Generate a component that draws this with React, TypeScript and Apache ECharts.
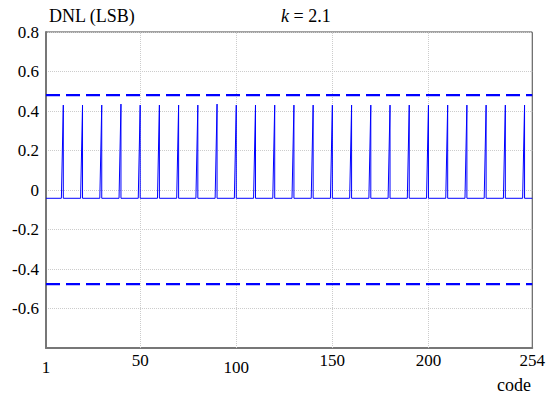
import React, { useEffect, useRef } from "react";
import * as echarts from "echarts";

// Data
const xTickLabels = [1, 50, 100, 150, 200, 254];
const xGridCodes = [50, 100, 150, 200];
const baselineDNL = -0.042;
const spikeCodes = [10, 20, 30, 40, 50, 60, 70, 80, 90, 100, 110, 120, 130, 140, 150, 160, 170, 180, 190, 200, 210, 220, 230, 240, 250];
const spikePeaks = [0.43, 0.43, 0.43, 0.435, 0.43, 0.43, 0.43, 0.43, 0.435, 0.43, 0.43, 0.43, 0.43, 0.43, 0.43, 0.43, 0.43, 0.43, 0.43, 0.43, 0.43, 0.43, 0.43, 0.43, 0.43];
const upperLimit = 0.48;
const lowerLimit = -0.477;
const firstCode = 1;
const lastCode = 254;

const FONT = "Times New Roman";

export default function App() {
  const ref = useRef<HTMLDivElement>(null);
  useEffect(() => {
    if (!ref.current) return;
    const chart = echarts.init(ref.current, undefined, { renderer: "svg" });

    const dnlPoints: number[][] = [[firstCode, baselineDNL]];
    spikeCodes.forEach((c, i) => {
      dnlPoints.push([c - 1, baselineDNL]);
      dnlPoints.push([c, spikePeaks[i]]);
      dnlPoints.push([c, baselineDNL]);
    });
    dnlPoints.push([lastCode, baselineDNL]);

    const shifted = new Set([1, 100]);
    const txt = { fontFamily: FONT, fontSize: 17, color: "#000" };

    chart.setOption({
      animation: false,
      textStyle: { fontFamily: FONT },
      grid: {
        left: 46,
        right: 13,
        top: 32,
        bottom: 50,
        show: true,
        borderColor: "#444",
        borderWidth: 1,
      },
      xAxis: {
        type: "value",
        min: firstCode,
        max: lastCode,
        axisLine: { show: true, onZero: false, lineStyle: { color: "#777", width: 2 } },
        axisTick: { show: false },
        splitLine: { show: false },
        axisLabel: {
          customValues: xTickLabels,
          margin: 4,
          ...txt,
          formatter: (v: number) => (shifted.has(v) ? `{s|${v}}` : `{n|${v}}`),
          rich: {
            s: { ...txt, padding: [7, 0, 0, 0] },
            n: { ...txt },
          },
        },
      },
      yAxis: {
        type: "value",
        min: -0.8,
        max: 0.8,
        interval: 0.2,
        axisLine: { show: true, onZero: false, lineStyle: { color: "#777", width: 2 } },
        axisTick: { show: false },
        splitLine: { show: true, lineStyle: { color: "#ccc", type: "dotted", width: 1 } },
        axisLabel: {
          margin: 7,
          ...txt,
          formatter: (v: number) => (Math.abs(v + 0.8) < 1e-9 ? "" : String(+v.toFixed(1))),
        },
      },
      series: [
        {
          type: "line",
          data: dnlPoints,
          showSymbol: false,
          lineStyle: { color: "#0000ff", width: 1 },
          z: 3,
          markLine: {
            silent: true,
            symbol: "none",
            label: { show: false },
            lineStyle: { color: "#ccc", type: "dotted", width: 1 },
            data: xGridCodes.map((c) => ({ xAxis: c })),
            z: 1,
          },
        },
        {
          type: "line",
          data: [[firstCode, upperLimit], [lastCode, upperLimit]],
          showSymbol: false,
          lineStyle: { color: "#0000ff", width: 2.2, type: [14, 6] },
          z: 4,
        },
        {
          type: "line",
          data: [[firstCode, lowerLimit], [lastCode, lowerLimit]],
          showSymbol: false,
          lineStyle: { color: "#0000ff", width: 2.2, type: [14, 6] },
          z: 4,
        },
      ],
      graphic: [
        {
          type: "text",
          left: 49,
          top: 7,
          style: { text: "DNL (LSB)", fontFamily: FONT, fontSize: 18, fill: "#000" },
        },
        {
          type: "text",
          left: 281,
          top: 7,
          style: {
            text: "{i|k} = 2.1",
            fontFamily: FONT,
            fontSize: 18,
            fill: "#000",
            rich: { i: { fontStyle: "italic", fontFamily: FONT, fontSize: 18, fill: "#000" } },
          },
        },
        {
          type: "text",
          left: 497,
          top: 376,
          style: { text: "code", fontFamily: FONT, fontSize: 18, fill: "#000" },
        },
      ],
    });
    return () => chart.dispose();
  }, []);
  return <div ref={ref} style={{ width: 548, height: 398, position: "absolute", left: 0, top: 0 }} />;
}
